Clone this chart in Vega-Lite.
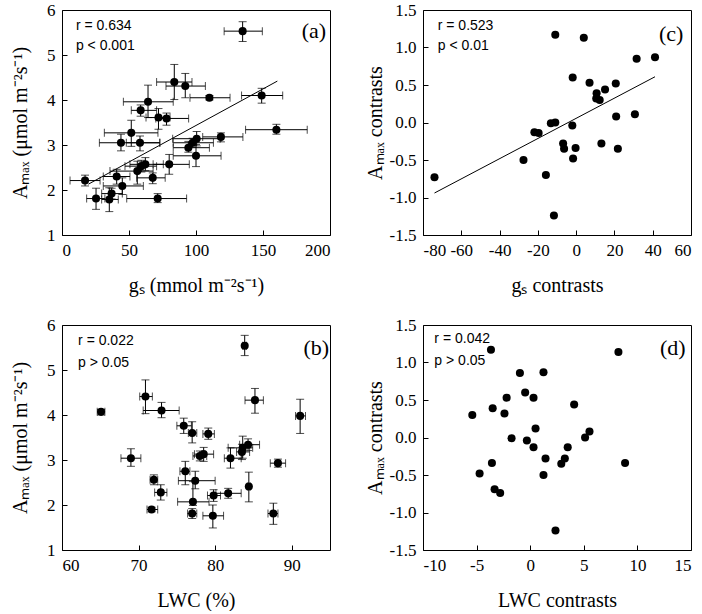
{
  "$schema": "https://vega.github.io/schema/vega-lite/v6.json",
  "autosize": {"type": "pad"},
  "padding": {"left": 10, "top": 0, "right": 0, "bottom": 0},
  "background": "white",
  "columns": 2,
  "spacing": {"row": 90, "column": 93},
  "bounds": "flush",
  "datasets": {
    "gs": [
      {"x": 134.8, "y": 5.53, "xlo": 121, "xhi": 149.5, "ylo": 5.30, "yhi": 5.74},
      {"x": 83.8, "y": 4.40, "xlo": 70.6, "xhi": 97, "ylo": 4.01, "yhi": 4.79},
      {"x": 92, "y": 4.31, "xlo": 77.6, "xhi": 107, "ylo": 4.05, "yhi": 4.59},
      {"x": 110, "y": 4.05, "xlo": 95.5, "xhi": 125.4, "ylo": 4.00, "yhi": 4.10},
      {"x": 149, "y": 4.10, "xlo": 134, "xhi": 164.7, "ylo": 3.93, "yhi": 4.26},
      {"x": 64.2, "y": 3.96, "xlo": 45.8, "xhi": 83, "ylo": 3.61, "yhi": 4.33},
      {"x": 58.7, "y": 3.77, "xlo": 51.7, "xhi": 70.6, "ylo": 3.64, "yhi": 3.89},
      {"x": 72, "y": 3.61, "xlo": 62.7, "xhi": 80.6, "ylo": 3.35, "yhi": 3.81},
      {"x": 78, "y": 3.59, "xlo": 70, "xhi": 94.5, "ylo": 3.44, "yhi": 3.71},
      {"x": 160, "y": 3.34, "xlo": 137, "xhi": 183, "ylo": 3.24, "yhi": 3.46},
      {"x": 51.7, "y": 3.27, "xlo": 31.6, "xhi": 71.6, "ylo": 2.97, "yhi": 3.55},
      {"x": 44, "y": 3.05, "xlo": 27.9, "xhi": 73, "ylo": 2.87, "yhi": 3.24},
      {"x": 58.2, "y": 3.05, "xlo": 48, "xhi": 73, "ylo": 2.87, "yhi": 3.20},
      {"x": 118.6, "y": 3.18, "xlo": 105, "xhi": 135, "ylo": 3.07, "yhi": 3.27},
      {"x": 100.5, "y": 3.14, "xlo": 82.6, "xhi": 118, "ylo": 2.98, "yhi": 3.30},
      {"x": 97.5, "y": 3.05, "xlo": 83, "xhi": 113, "ylo": 2.95, "yhi": 3.15},
      {"x": 94.3, "y": 2.94, "xlo": 83, "xhi": 110, "ylo": 2.84, "yhi": 3.08},
      {"x": 100, "y": 2.76, "xlo": 83, "xhi": 118.7, "ylo": 2.52, "yhi": 3.01},
      {"x": 80, "y": 2.57, "xlo": 68, "xhi": 95, "ylo": 2.35, "yhi": 2.79},
      {"x": 62.2, "y": 2.57, "xlo": 50.7, "xhi": 75.6, "ylo": 2.43, "yhi": 2.72},
      {"x": 59.2, "y": 2.53, "xlo": 47, "xhi": 70.6, "ylo": 2.40, "yhi": 2.66},
      {"x": 56.2, "y": 2.42, "xlo": 35.8, "xhi": 68, "ylo": 2.13, "yhi": 2.64},
      {"x": 67.7, "y": 2.27, "xlo": 55.7, "xhi": 77, "ylo": 2.14, "yhi": 2.38},
      {"x": 40.8, "y": 2.30, "xlo": 30.8, "xhi": 50.7, "ylo": 2.13, "yhi": 2.46},
      {"x": 17.2, "y": 2.21, "xlo": 6, "xhi": 28.4, "ylo": 2.09, "yhi": 2.33},
      {"x": 45, "y": 2.09, "xlo": 30.8, "xhi": 60.7, "ylo": 1.90, "yhi": 2.27},
      {"x": 25.4, "y": 1.81, "xlo": 18.4, "xhi": 32, "ylo": 1.57, "yhi": 2.04},
      {"x": 37, "y": 1.92, "xlo": 29.6, "xhi": 45, "ylo": 1.80, "yhi": 2.04},
      {"x": 35.3, "y": 1.79, "xlo": 29.6, "xhi": 42, "ylo": 1.52, "yhi": 2.05},
      {"x": 71.4, "y": 1.81, "xlo": 48.3, "xhi": 93, "ylo": 1.72, "yhi": 1.92}
    ],
    "gsFit": [{"x": 19.7, "y": 2.13}, {"x": 160.7, "y": 4.42}],
    "gsStat": [{"x": 10.4, "y": 5.64, "label": "r = 0.634"}, {"x": 10.4, "y": 5.2, "label": "p < 0.001"}],
    "gsTag": [{"x": 188, "y": 5.53, "label": "(a)"}],
    "lwc": [
      {"x": 83.86, "y": 5.54, "xlo": 83.6, "xhi": 84.1, "ylo": 5.32, "yhi": 5.77},
      {"x": 70.9, "y": 4.41, "xlo": 70.15, "xhi": 71.8, "ylo": 4.03, "yhi": 4.78},
      {"x": 85.2, "y": 4.33, "xlo": 83.9, "xhi": 86.3, "ylo": 4.04, "yhi": 4.59},
      {"x": 73, "y": 4.10, "xlo": 70.6, "xhi": 75.3, "ylo": 3.94, "yhi": 4.28},
      {"x": 65.1, "y": 4.07, "xlo": 64.6, "xhi": 65.6, "ylo": 4.0, "yhi": 4.12},
      {"x": 91.1, "y": 3.98, "xlo": 90.5, "xhi": 91.8, "ylo": 3.59, "yhi": 4.35},
      {"x": 75.9, "y": 3.76, "xlo": 75, "xhi": 76.9, "ylo": 3.59, "yhi": 3.93},
      {"x": 77, "y": 3.60, "xlo": 76.5, "xhi": 77.6, "ylo": 3.38, "yhi": 3.85},
      {"x": 79.1, "y": 3.58, "xlo": 78.4, "xhi": 79.9, "ylo": 3.46, "yhi": 3.71},
      {"x": 84.3, "y": 3.34, "xlo": 83.2, "xhi": 85.8, "ylo": 3.21, "yhi": 3.47},
      {"x": 83.6, "y": 3.27, "xlo": 81.7, "xhi": 84.9, "ylo": 3.04, "yhi": 3.53},
      {"x": 83.5, "y": 3.18, "xlo": 82.8, "xhi": 84.5, "ylo": 3.01, "yhi": 3.35},
      {"x": 78.5, "y": 3.13, "xlo": 77.3, "xhi": 79.8, "ylo": 2.97, "yhi": 3.28},
      {"x": 78, "y": 3.09, "xlo": 77.1, "xhi": 78.9, "ylo": 2.98, "yhi": 3.2},
      {"x": 82, "y": 3.04, "xlo": 81.2, "xhi": 83.4, "ylo": 2.82, "yhi": 3.27},
      {"x": 69, "y": 3.04, "xlo": 67.7, "xhi": 70.3, "ylo": 2.86, "yhi": 3.25},
      {"x": 88.2, "y": 2.93, "xlo": 87.2, "xhi": 89.2, "ylo": 2.84, "yhi": 3.02},
      {"x": 76.1, "y": 2.75, "xlo": 75.4, "xhi": 76.7, "ylo": 2.45, "yhi": 2.97},
      {"x": 77.4, "y": 2.54, "xlo": 75.2, "xhi": 80, "ylo": 2.36, "yhi": 2.75},
      {"x": 72, "y": 2.56, "xlo": 71.5, "xhi": 72.5, "ylo": 2.45, "yhi": 2.67},
      {"x": 72.9, "y": 2.28, "xlo": 72.1, "xhi": 73.7, "ylo": 2.11, "yhi": 2.45},
      {"x": 84.4, "y": 2.41, "xlo": 84.2, "xhi": 84.6, "ylo": 2.07, "yhi": 2.73},
      {"x": 81.7, "y": 2.26, "xlo": 80.1, "xhi": 83.4, "ylo": 2.15, "yhi": 2.37},
      {"x": 79.8, "y": 2.21, "xlo": 79, "xhi": 80.7, "ylo": 2.08, "yhi": 2.34},
      {"x": 77.1, "y": 2.07, "xlo": 75.1, "xhi": 79.2, "ylo": 1.99, "yhi": 2.52},
      {"x": 71.7, "y": 1.90, "xlo": 71.1, "xhi": 72.5, "ylo": 1.85, "yhi": 1.95},
      {"x": 77, "y": 1.81, "xlo": 76.4, "xhi": 77.6, "ylo": 1.70, "yhi": 1.92},
      {"x": 79.7, "y": 1.76, "xlo": 78.4, "xhi": 81.1, "ylo": 1.49, "yhi": 2.0},
      {"x": 87.6, "y": 1.81, "xlo": 86.9, "xhi": 88.2, "ylo": 1.57, "yhi": 2.04}
    ],
    "lwcStat": [{"x": 62.1, "y": 5.64, "label": "r = 0.022"}, {"x": 62.1, "y": 5.16, "label": "p > 0.05"}],
    "lwcTag": [{"x": 93.2, "y": 5.5, "label": "(b)"}],
    "gsc": [
      {"x": -74, "y": -0.73}, {"x": -10.9, "y": 1.17}, {"x": 4, "y": 1.13}, {"x": 31.6, "y": 0.85},
      {"x": 41.2, "y": 0.87}, {"x": -1.8, "y": 0.60}, {"x": 7, "y": 0.53}, {"x": 20.7, "y": 0.52},
      {"x": 15.1, "y": 0.44}, {"x": 10.7, "y": 0.39}, {"x": 10.5, "y": 0.32}, {"x": 12.3, "y": 0.30},
      {"x": 30.7, "y": 0.11}, {"x": 20.9, "y": 0.08}, {"x": -13.2, "y": -0.01}, {"x": -10.9, "y": 0.0},
      {"x": -2, "y": -0.04}, {"x": -21.8, "y": -0.13}, {"x": -19.6, "y": -0.14}, {"x": -6.8, "y": -0.28},
      {"x": -6.3, "y": -0.35}, {"x": -0.3, "y": -0.34}, {"x": 13.2, "y": -0.28}, {"x": 21.8, "y": -0.35},
      {"x": -1.6, "y": -0.48}, {"x": -27.5, "y": -0.50}, {"x": -15.8, "y": -0.70}, {"x": -11.6, "y": -1.24}
    ],
    "gscFit": [{"x": -74, "y": -0.94}, {"x": 41.2, "y": 0.61}],
    "gscStat": [{"x": -72.3, "y": 1.29, "label": "r = 0.523"}, {"x": -72.3, "y": 1.02, "label": "p < 0.01"}],
    "gscTag": [{"x": 49.6, "y": 1.18, "label": "(c)"}],
    "lwcc": [
      {"x": -3.66, "y": 1.17}, {"x": 8.23, "y": 1.14}, {"x": -0.96, "y": 0.86}, {"x": 1.24, "y": 0.87},
      {"x": -0.47, "y": 0.60}, {"x": 0.31, "y": 0.53}, {"x": -2.2, "y": 0.53}, {"x": 4.1, "y": 0.44},
      {"x": -3.5, "y": 0.39}, {"x": -2.4, "y": 0.32}, {"x": -5.4, "y": 0.30}, {"x": 0.5, "y": 0.12},
      {"x": 5.53, "y": 0.08}, {"x": 5.12, "y": 0.0}, {"x": -1.74, "y": -0.01}, {"x": -0.31, "y": -0.04},
      {"x": 0.31, "y": -0.13}, {"x": 3.5, "y": -0.13}, {"x": 1.43, "y": -0.28}, {"x": 3.23, "y": -0.28},
      {"x": 2.9, "y": -0.35}, {"x": 8.85, "y": -0.34}, {"x": -3.57, "y": -0.34}, {"x": -4.72, "y": -0.48},
      {"x": 1.24, "y": -0.50}, {"x": -3.32, "y": -0.69}, {"x": -2.8, "y": -0.74}, {"x": 2.36, "y": -1.24}
    ],
    "lwccStat": [{"x": -8.94, "y": 1.31, "label": "r = 0.042"}, {"x": -8.94, "y": 1.02, "label": "p > 0.05"}],
    "lwccTag": [{"x": 13.3, "y": 1.2, "label": "(d)"}]
  },
  "concat": [
    {
      "width": 268, "height": 225,
      "layer": [
        {
          "data": {"name": "gs"},
          "mark": {"type": "errorbar", "ticks": true, "size": 8, "thickness": 1, "color": "black"},
          "encoding": {
            "x": {"field": "xlo", "type": "quantitative", "scale": {"domain": [0, 200], "nice": false, "zero": false}, "axis": {"title": "gₛ (mmol m⁻²s⁻¹)", "values": [0, 50, 100, 150, 200]}},
            "x2": {"field": "xhi"},
            "y": {"field": "y", "type": "quantitative", "scale": {"domain": [1, 6], "nice": false, "zero": false}, "axis": {"title": "Aₘₐₓ (μmol m⁻²s⁻¹)", "values": [1, 2, 3, 4, 5, 6]}}
          }
        },
        {
          "data": {"name": "gs"},
          "mark": {"type": "errorbar", "ticks": true, "size": 8, "thickness": 1, "color": "black"},
          "encoding": {
            "x": {"field": "x", "type": "quantitative", "scale": {"domain": [0, 200], "nice": false, "zero": false}, "axis": {"title": "gₛ (mmol m⁻²s⁻¹)", "values": [0, 50, 100, 150, 200]}},
            "y": {"field": "ylo", "type": "quantitative", "scale": {"domain": [1, 6], "nice": false, "zero": false}, "axis": {"title": "Aₘₐₓ (μmol m⁻²s⁻¹)", "values": [1, 2, 3, 4, 5, 6]}},
            "y2": {"field": "yhi"}
          }
        },
        {
          "data": {"name": "gs"},
          "mark": {"type": "point", "shape": "circle", "filled": true, "size": 65, "color": "black", "opacity": 1},
          "encoding": {
            "x": {"field": "x", "type": "quantitative", "scale": {"domain": [0, 200], "nice": false, "zero": false}, "axis": {"title": "gₛ (mmol m⁻²s⁻¹)", "values": [0, 50, 100, 150, 200]}},
            "y": {"field": "y", "type": "quantitative", "scale": {"domain": [1, 6], "nice": false, "zero": false}, "axis": {"title": "Aₘₐₓ (μmol m⁻²s⁻¹)", "values": [1, 2, 3, 4, 5, 6]}}
          }
        },
        {
          "data": {"name": "gsFit"},
          "mark": {"type": "line", "color": "black", "strokeWidth": 1},
          "encoding": {
            "x": {"field": "x", "type": "quantitative", "scale": {"domain": [0, 200], "nice": false, "zero": false}, "axis": {"title": "gₛ (mmol m⁻²s⁻¹)", "values": [0, 50, 100, 150, 200]}},
            "y": {"field": "y", "type": "quantitative", "scale": {"domain": [1, 6], "nice": false, "zero": false}, "axis": {"title": "Aₘₐₓ (μmol m⁻²s⁻¹)", "values": [1, 2, 3, 4, 5, 6]}}
          }
        },
        {
          "data": {"name": "gsStat"},
          "mark": {"type": "text", "align": "left", "baseline": "middle", "font": "Liberation Sans", "fontSize": 14, "color": "black"},
          "encoding": {
            "x": {"field": "x", "type": "quantitative", "scale": {"domain": [0, 200], "nice": false, "zero": false}, "axis": {"title": "gₛ (mmol m⁻²s⁻¹)", "values": [0, 50, 100, 150, 200]}},
            "y": {"field": "y", "type": "quantitative", "scale": {"domain": [1, 6], "nice": false, "zero": false}, "axis": {"title": "Aₘₐₓ (μmol m⁻²s⁻¹)", "values": [1, 2, 3, 4, 5, 6]}},
            "text": {"field": "label"}
          }
        },
        {
          "data": {"name": "gsTag"},
          "mark": {"type": "text", "align": "center", "baseline": "middle", "font": "Liberation Serif", "fontSize": 22, "color": "black"},
          "encoding": {
            "x": {"field": "x", "type": "quantitative", "scale": {"domain": [0, 200], "nice": false, "zero": false}, "axis": {"title": "gₛ (mmol m⁻²s⁻¹)", "values": [0, 50, 100, 150, 200]}},
            "y": {"field": "y", "type": "quantitative", "scale": {"domain": [1, 6], "nice": false, "zero": false}, "axis": {"title": "Aₘₐₓ (μmol m⁻²s⁻¹)", "values": [1, 2, 3, 4, 5, 6]}},
            "text": {"field": "label"}
          }
        }
      ]
    },
    {
      "width": 268, "height": 225,
      "layer": [
        {
          "data": {"name": "gsc"},
          "mark": {"type": "point", "shape": "circle", "filled": true, "size": 65, "color": "black", "opacity": 1},
          "encoding": {
            "x": {"field": "x", "type": "quantitative", "scale": {"domain": [-80, 60], "nice": false, "zero": false}, "axis": {"title": "gₛ contrasts", "values": [-80, -60, -40, -20, 0, 20, 40, 60], "labelExpr": "replace(datum.label, '−', '-')"}},
            "y": {"field": "y", "type": "quantitative", "scale": {"domain": [-1.5, 1.5], "nice": false, "zero": false}, "axis": {"title": "Aₘₐₓ contrasts", "values": [-1.5, -1, -0.5, 0, 0.5, 1, 1.5], "format": ".1f", "labelExpr": "replace(datum.label, '−', '-')", "titlePadding": 4}}
          }
        },
        {
          "data": {"name": "gscFit"},
          "mark": {"type": "line", "color": "black", "strokeWidth": 1},
          "encoding": {
            "x": {"field": "x", "type": "quantitative", "scale": {"domain": [-80, 60], "nice": false, "zero": false}, "axis": {"title": "gₛ contrasts", "values": [-80, -60, -40, -20, 0, 20, 40, 60], "labelExpr": "replace(datum.label, '−', '-')"}},
            "y": {"field": "y", "type": "quantitative", "scale": {"domain": [-1.5, 1.5], "nice": false, "zero": false}, "axis": {"title": "Aₘₐₓ contrasts", "values": [-1.5, -1, -0.5, 0, 0.5, 1, 1.5], "format": ".1f", "labelExpr": "replace(datum.label, '−', '-')", "titlePadding": 4}}
          }
        },
        {
          "data": {"name": "gscStat"},
          "mark": {"type": "text", "align": "left", "baseline": "middle", "font": "Liberation Sans", "fontSize": 14, "color": "black"},
          "encoding": {
            "x": {"field": "x", "type": "quantitative", "scale": {"domain": [-80, 60], "nice": false, "zero": false}, "axis": {"title": "gₛ contrasts", "values": [-80, -60, -40, -20, 0, 20, 40, 60], "labelExpr": "replace(datum.label, '−', '-')"}},
            "y": {"field": "y", "type": "quantitative", "scale": {"domain": [-1.5, 1.5], "nice": false, "zero": false}, "axis": {"title": "Aₘₐₓ contrasts", "values": [-1.5, -1, -0.5, 0, 0.5, 1, 1.5], "format": ".1f", "labelExpr": "replace(datum.label, '−', '-')", "titlePadding": 4}},
            "text": {"field": "label"}
          }
        },
        {
          "data": {"name": "gscTag"},
          "mark": {"type": "text", "align": "center", "baseline": "middle", "font": "Liberation Serif", "fontSize": 22, "color": "black"},
          "encoding": {
            "x": {"field": "x", "type": "quantitative", "scale": {"domain": [-80, 60], "nice": false, "zero": false}, "axis": {"title": "gₛ contrasts", "values": [-80, -60, -40, -20, 0, 20, 40, 60], "labelExpr": "replace(datum.label, '−', '-')"}},
            "y": {"field": "y", "type": "quantitative", "scale": {"domain": [-1.5, 1.5], "nice": false, "zero": false}, "axis": {"title": "Aₘₐₓ contrasts", "values": [-1.5, -1, -0.5, 0, 0.5, 1, 1.5], "format": ".1f", "labelExpr": "replace(datum.label, '−', '-')", "titlePadding": 4}},
            "text": {"field": "label"}
          }
        }
      ]
    },
    {
      "width": 268, "height": 225,
      "layer": [
        {
          "data": {"name": "lwc"},
          "mark": {"type": "errorbar", "ticks": true, "size": 8, "thickness": 1, "color": "black"},
          "encoding": {
            "x": {"field": "xlo", "type": "quantitative", "scale": {"domain": [60, 95], "nice": false, "zero": false}, "axis": {"title": "LWC (%)", "values": [60, 70, 80, 90]}},
            "x2": {"field": "xhi"},
            "y": {"field": "y", "type": "quantitative", "scale": {"domain": [1, 6], "nice": false, "zero": false}, "axis": {"title": "Aₘₐₓ (μmol m⁻²s⁻¹)", "values": [1, 2, 3, 4, 5, 6]}}
          }
        },
        {
          "data": {"name": "lwc"},
          "mark": {"type": "errorbar", "ticks": true, "size": 8, "thickness": 1, "color": "black"},
          "encoding": {
            "x": {"field": "x", "type": "quantitative", "scale": {"domain": [60, 95], "nice": false, "zero": false}, "axis": {"title": "LWC (%)", "values": [60, 70, 80, 90]}},
            "y": {"field": "ylo", "type": "quantitative", "scale": {"domain": [1, 6], "nice": false, "zero": false}, "axis": {"title": "Aₘₐₓ (μmol m⁻²s⁻¹)", "values": [1, 2, 3, 4, 5, 6]}},
            "y2": {"field": "yhi"}
          }
        },
        {
          "data": {"name": "lwc"},
          "mark": {"type": "point", "shape": "circle", "filled": true, "size": 65, "color": "black", "opacity": 1},
          "encoding": {
            "x": {"field": "x", "type": "quantitative", "scale": {"domain": [60, 95], "nice": false, "zero": false}, "axis": {"title": "LWC (%)", "values": [60, 70, 80, 90]}},
            "y": {"field": "y", "type": "quantitative", "scale": {"domain": [1, 6], "nice": false, "zero": false}, "axis": {"title": "Aₘₐₓ (μmol m⁻²s⁻¹)", "values": [1, 2, 3, 4, 5, 6]}}
          }
        },
        {
          "data": {"name": "lwcStat"},
          "mark": {"type": "text", "align": "left", "baseline": "middle", "font": "Liberation Sans", "fontSize": 14, "color": "black"},
          "encoding": {
            "x": {"field": "x", "type": "quantitative", "scale": {"domain": [60, 95], "nice": false, "zero": false}, "axis": {"title": "LWC (%)", "values": [60, 70, 80, 90]}},
            "y": {"field": "y", "type": "quantitative", "scale": {"domain": [1, 6], "nice": false, "zero": false}, "axis": {"title": "Aₘₐₓ (μmol m⁻²s⁻¹)", "values": [1, 2, 3, 4, 5, 6]}},
            "text": {"field": "label"}
          }
        },
        {
          "data": {"name": "lwcTag"},
          "mark": {"type": "text", "align": "center", "baseline": "middle", "font": "Liberation Serif", "fontSize": 22, "color": "black"},
          "encoding": {
            "x": {"field": "x", "type": "quantitative", "scale": {"domain": [60, 95], "nice": false, "zero": false}, "axis": {"title": "LWC (%)", "values": [60, 70, 80, 90]}},
            "y": {"field": "y", "type": "quantitative", "scale": {"domain": [1, 6], "nice": false, "zero": false}, "axis": {"title": "Aₘₐₓ (μmol m⁻²s⁻¹)", "values": [1, 2, 3, 4, 5, 6]}},
            "text": {"field": "label"}
          }
        }
      ]
    },
    {
      "width": 268, "height": 225,
      "layer": [
        {
          "data": {"name": "lwcc"},
          "mark": {"type": "point", "shape": "circle", "filled": true, "size": 65, "color": "black", "opacity": 1},
          "encoding": {
            "x": {"field": "x", "type": "quantitative", "scale": {"domain": [-10, 15], "nice": false, "zero": false}, "axis": {"title": "LWC contrasts", "values": [-10, -5, 0, 5, 10, 15], "labelExpr": "replace(datum.label, '−', '-')"}},
            "y": {"field": "y", "type": "quantitative", "scale": {"domain": [-1.5, 1.5], "nice": false, "zero": false}, "axis": {"title": "Aₘₐₓ contrasts", "values": [-1.5, -1, -0.5, 0, 0.5, 1, 1.5], "format": ".1f", "labelExpr": "replace(datum.label, '−', '-')", "titlePadding": 4}}
          }
        },
        {
          "data": {"name": "lwccStat"},
          "mark": {"type": "text", "align": "left", "baseline": "middle", "font": "Liberation Sans", "fontSize": 14, "color": "black"},
          "encoding": {
            "x": {"field": "x", "type": "quantitative", "scale": {"domain": [-10, 15], "nice": false, "zero": false}, "axis": {"title": "LWC contrasts", "values": [-10, -5, 0, 5, 10, 15], "labelExpr": "replace(datum.label, '−', '-')"}},
            "y": {"field": "y", "type": "quantitative", "scale": {"domain": [-1.5, 1.5], "nice": false, "zero": false}, "axis": {"title": "Aₘₐₓ contrasts", "values": [-1.5, -1, -0.5, 0, 0.5, 1, 1.5], "format": ".1f", "labelExpr": "replace(datum.label, '−', '-')", "titlePadding": 4}},
            "text": {"field": "label"}
          }
        },
        {
          "data": {"name": "lwccTag"},
          "mark": {"type": "text", "align": "center", "baseline": "middle", "font": "Liberation Serif", "fontSize": 22, "color": "black"},
          "encoding": {
            "x": {"field": "x", "type": "quantitative", "scale": {"domain": [-10, 15], "nice": false, "zero": false}, "axis": {"title": "LWC contrasts", "values": [-10, -5, 0, 5, 10, 15], "labelExpr": "replace(datum.label, '−', '-')"}},
            "y": {"field": "y", "type": "quantitative", "scale": {"domain": [-1.5, 1.5], "nice": false, "zero": false}, "axis": {"title": "Aₘₐₓ contrasts", "values": [-1.5, -1, -0.5, 0, 0.5, 1, 1.5], "format": ".1f", "labelExpr": "replace(datum.label, '−', '-')", "titlePadding": 4}},
            "text": {"field": "label"}
          }
        }
      ]
    }
  ],
  "config": {
    "view": {"stroke": "black", "strokeWidth": 1},
    "axis": {
      "domain": false, "grid": false, "tickSize": -5, "tickColor": "black", "tickWidth": 1,
      "labelFont": "Liberation Serif", "labelFontSize": 17, "labelColor": "black", "labelPadding": 12,
      "titleFont": "Liberation Serif", "titleFontSize": 20, "titleFontWeight": "normal", "titleColor": "black"
    },
    "axisX": {"titlePadding": 17},
    "axisY": {"titlePadding": 16}
  }
}
